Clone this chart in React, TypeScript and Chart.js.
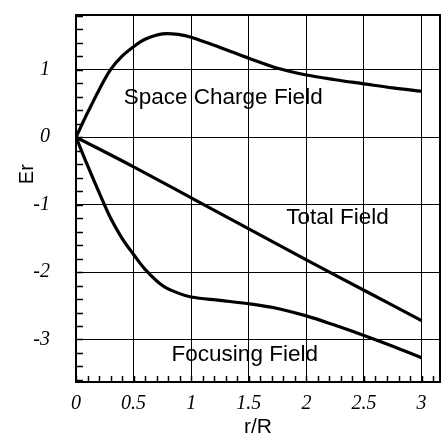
import { useEffect, useRef } from "react";
import { Chart, registerables } from "chart.js";

Chart.register(...registerables);

// r/R sample positions for the curved fields
const rValues = [0, 0.1, 0.2, 0.3, 0.4, 0.5, 0.6, 0.75, 0.9, 1.0, 1.25, 1.5, 1.75, 2.0, 2.25, 2.5, 2.75, 3.0];
const spaceChargeField = [0, 0.36, 0.7, 1.0, 1.2, 1.34, 1.45, 1.53, 1.52, 1.48, 1.33, 1.17, 1.02, 0.92, 0.85, 0.79, 0.73, 0.68];
const focusingField = [0, -0.42, -0.82, -1.2, -1.5, -1.74, -1.96, -2.2, -2.32, -2.37, -2.42, -2.47, -2.54, -2.65, -2.79, -2.94, -3.1, -3.27];

const totalR = [0, 0.5, 1.0, 1.5, 2.0, 2.5, 3.0];
const totalField = [0, -0.44, -0.9, -1.36, -1.82, -2.27, -2.72];

const xTicks = [0, 0.5, 1, 1.5, 2, 2.5, 3];
const yTicks = [-3, -2, -1, 0, 1];
const xRange = [0, 3.16];
const yRange = [-3.63, 1.81];
const xMinorStep = 0.1;
const yMinorStep = 0.2;

const xAxisTitle = "r/R";
const yAxisTitle = "Er";
const yAxisTitleAt = -0.55;

const curveLabels = ["Space Charge Field", "Total Field", "Focusing Field"];
const curveLabelR = [1.278, 2.27, 1.465];
const curveLabelE = [0.58, -1.2, -3.23];

const serifItalic = { family: '"Liberation Serif", "Times New Roman", serif', style: "italic" as const, size: 20 };
const sansFont = '"Liberation Sans", Arial, sans-serif';

const framePlugin = {
  id: "frameAndMinor",
  afterDraw(chart: any) {
    const { ctx, chartArea, scales } = chart;
    const xs = scales.x;
    const ys = scales.y;
    ctx.save();
    ctx.strokeStyle = "#000";
    ctx.lineWidth = 1.5;
    // minor ticks on bottom axis (inward)
    for (let i = 0; i * xMinorStep <= xRange[1] + 1e-9; i++) {
      const v = i * xMinorStep;
      const px = Math.round(xs.getPixelForValue(v)) + 0.5;
      ctx.beginPath();
      ctx.moveTo(px, chartArea.bottom);
      ctx.lineTo(px, chartArea.bottom - 6);
      ctx.stroke();
    }
    // minor ticks on left axis (inward)
    for (let i = Math.ceil(yRange[0] / yMinorStep); i * yMinorStep <= yRange[1] + 1e-9; i++) {
      const v = i * yMinorStep;
      const py = Math.round(ys.getPixelForValue(v)) + 0.5;
      ctx.beginPath();
      ctx.moveTo(chartArea.left, py);
      ctx.lineTo(chartArea.left + 7, py);
      ctx.stroke();
    }
    // frame
    ctx.lineWidth = 2;
    ctx.strokeRect(chartArea.left, chartArea.top, chartArea.right - chartArea.left, chartArea.bottom - chartArea.top);
    // curve labels
    ctx.fillStyle = "#000";
    ctx.font = `22.5px ${sansFont}`;
    ctx.textAlign = "center";
    ctx.textBaseline = "middle";
    curveLabels.forEach((t, i) => {
      ctx.fillText(t, xs.getPixelForValue(curveLabelR[i]), ys.getPixelForValue(curveLabelE[i]));
    });
    // y axis title (placed between the 0 and -1 ticks, as in the original)
    ctx.translate(27, ys.getPixelForValue(yAxisTitleAt));
    ctx.rotate(-Math.PI / 2);
    ctx.font = `20px ${sansFont}`;
    ctx.fillText(yAxisTitle, 0, 0);
    ctx.restore();
  },
};

export default function App() {
  const canvasRef = useRef<HTMLCanvasElement | null>(null);

  useEffect(() => {
    const canvas = canvasRef.current;
    if (!canvas) return;
    const lineStyle = {
      borderColor: "#000",
      backgroundColor: "#000",
      borderWidth: 3.2,
      pointRadius: 0,
      fill: false,
      tension: 0.35,
    };
    const chart = new Chart(canvas, {
      type: "line",
      data: {
        datasets: [
          { label: "Space Charge Field", data: rValues.map((r, i) => ({ x: r, y: spaceChargeField[i] })), ...lineStyle },
          { label: "Total Field", data: totalR.map((r, i) => ({ x: r, y: totalField[i] })), ...lineStyle },
          { label: "Focusing Field", data: rValues.map((r, i) => ({ x: r, y: focusingField[i] })), ...lineStyle },
        ],
      },
      options: {
        animation: false,
        responsive: false,
        maintainAspectRatio: false,
        layout: { padding: { top: 15, right: 5, left: 0, bottom: 0 } },
        plugins: { legend: { display: false }, tooltip: { enabled: false } },
        scales: {
          x: {
            type: "linear",
            min: xRange[0],
            max: xRange[1],
            afterBuildTicks: (s: any) => {
              s.ticks = xTicks.map((v) => ({ value: v }));
            },
            afterFit: (s: any) => {
              s.height = 58;
              s.paddingLeft = 0;
              s.paddingRight = 0;
            },
            grid: { color: "#000", lineWidth: 1, drawTicks: false },
            border: { color: "#000", width: 2 },
            ticks: {
              padding: 10,
              color: "#000",
              font: serifItalic,
              maxRotation: 0,
              autoSkip: false,
              callback: (v: any) => String(v),
            },
            title: { display: true, text: xAxisTitle, color: "#000", font: { family: sansFont, size: 21 }, padding: 0 },
          },
          y: {
            type: "linear",
            min: yRange[0],
            max: yRange[1],
            afterBuildTicks: (s: any) => {
              s.ticks = yTicks.map((v) => ({ value: v }));
            },
            afterFit: (s: any) => {
              s.width = 76;
              s.paddingTop = 0;
              s.paddingBottom = 0;
            },
            grid: { color: "#000", lineWidth: 1, drawTicks: false },
            border: { color: "#000", width: 2 },
            ticks: {
              padding: 26,
              color: "#000",
              font: serifItalic,
              autoSkip: false,
              callback: (v: any) => String(v),
            },
            title: { display: false, text: yAxisTitle },
          },
        },
      },
      plugins: [framePlugin],
    });
    return () => chart.destroy();
  }, []);

  return (
    <div style={{ position: "absolute", left: 0, top: 0, width: 445, height: 440, background: "#fff" }}>
      <canvas ref={canvasRef} width={445} height={440} style={{ width: 445, height: 440 }} />
    </div>
  );
}
